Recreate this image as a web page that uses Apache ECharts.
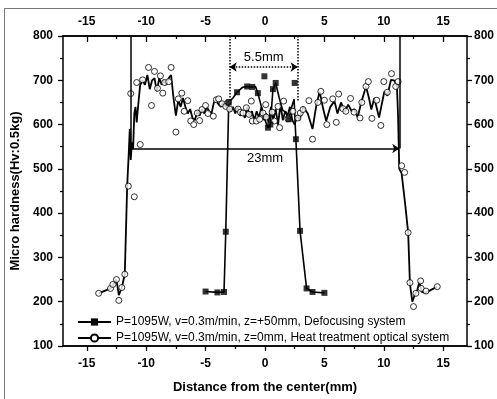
<!DOCTYPE html>
<html>
<head>
<meta charset="utf-8">
<title>Micro hardness</title>
<script src="https://cdn.jsdelivr.net/npm/echarts@6/dist/echarts.min.js"></script>
<style>
  html, body { margin: 0; padding: 0; background: #fff; }
  #frame { position: absolute; left: 4px; top: 8px; width: 493px; height: 391px;
           border-left: 1px solid #777; border-top: 1px solid #777; }
  #main { position: absolute; left: 0; top: 0; width: 497px; height: 399px; }
</style>
</head>
<body>
<div id="frame"></div>
<div id="main"></div>
<script>
// 刻度
var xMajorTicks = [-15, -10, -5, 0, 5, 10, 15];
var xMinorTicks = [-12.5, -7.5, -2.5, 2.5, 7.5, 12.5];

// 图例名称
var nameDefocus = 'P=1095W, v=0.3m/min, z=+50mm, Defocusing system';
var nameHeat = 'P=1095W, v=0.3m/min, z=0mm, Heat treatment optical system';

// 离焦系统 折线 [x, Hv]
var defocusLine = [[-5.0,223],[-4.0,221],[-3.45,222],[-3.3,358],[-3.05,650],[-2.7,660],[-2.35,673],
  [-1.9,684],[-1.5,686],[-1.07,685],[-0.8,686],[-0.6,671],[-0.3,640],[0.0,610],[0.25,593],
  [0.45,600],[0.67,680],[0.9,694],[1.2,660],[1.5,632],[1.75,628],[2.0,612],[2.3,645],
  [2.45,657],[2.6,567],[2.95,360],[3.5,230],[4.0,222],[5.0,220]];
// 离焦系统 实心方块
var defocusPts = [[-5.0,223],[-4.0,221],[-3.45,222],[-3.3,358],[-3.05,650],[-2.35,673],
  [-1.5,686],[-1.07,685],[-0.6,671],[-0.05,709],[0.25,593],[0.45,600],[0.67,680],[0.9,694],
  [2.0,612],[2.5,694],[2.6,567],[2.95,360],[3.5,230],[4.0,222],[5.0,220]];

// 热处理光学系统 折线
var heatLine = [[-14.0,219],[-13.0,230],[-12.8,238],[-12.5,250],[-12.3,215],[-12.05,232],[-11.8,262],
  [-11.6,460],[-11.45,545],[-11.38,590],[-11.3,520],[-11.2,560],[-11.1,545],[-11.0,625],[-10.9,640],
  [-10.8,605],[-10.65,650],[-10.5,690],[-10.3,700],[-10.1,690],[-9.9,712],[-9.7,680],[-9.5,700],
  [-9.3,705],[-9.1,675],[-8.9,705],[-8.7,690],[-8.5,700],[-8.3,690],[-8.1,705],[-7.9,712],
  [-7.7,660],[-7.5,620],[-7.3,655],[-7.1,640],[-6.9,660],[-6.7,640],[-6.5,625],[-6.3,635],
  [-6.1,615],[-5.9,610],[-5.7,630],[-5.5,620],[-5.3,635],[-5.1,625],[-4.9,640],[-4.7,630],
  [-4.5,625],[-4.3,650],[-4.1,655],[-3.9,645],[-3.7,640],[-3.5,650],[-3.3,640],[-3.1,645],
  [-2.9,630],[-2.7,640],[-2.5,625],[-2.3,640],[-2.1,620],[-1.9,630],[-1.7,615],[-1.5,640],
  [-1.3,620],[-1.1,630],[-0.9,610],[-0.7,630],[-0.5,615],[-0.3,640],[-0.1,610],[0.1,625],
  [0.3,605],[0.5,640],[0.7,610],[0.9,635],[1.1,600],[1.3,645],[1.5,610],[1.7,630],[1.9,620],
  [2.1,640],[2.3,610],[2.5,600],[2.7,620],[2.9,610],[3.2,640],[3.6,625],[4.0,590],[4.3,640],
  [4.6,675],[4.9,635],[5.15,608],[5.5,640],[5.85,653],[6.1,625],[6.4,650],[6.7,628],[7.0,645],
  [7.3,630],[7.5,635],[7.8,616],[8.1,650],[8.5,686],[8.75,660],[8.95,634],[9.2,660],[9.6,616],
  [10.05,675],[10.3,665],[10.6,701],[10.85,700],[11.1,690],[11.2,620],[11.3,500],[11.5,490],
  [11.8,420],[12.05,356],[12.2,240],[12.4,200],[12.6,215],[12.8,225],[13.0,245],[13.2,222],
  [13.5,220],[14.5,234]];
// 热处理光学系统 空心圆
var heatPts = [[-14.0,219],[-13.0,230],[-12.8,239],[-12.5,250],[-12.3,203],[-12.05,232],[-11.8,262],
  [-11.5,461],[-11.0,437],[-11.3,670],[-10.5,555],[-10.8,695],[-10.3,701],[-9.8,729],[-9.55,643],
  [-9.3,720],[-9.05,682],[-8.8,710],[-8.6,671],[-8.45,695],[-8.1,697],[-7.9,729],[-7.5,583],
  [-7.3,658],[-7.0,671],[-6.8,630],[-6.5,654],[-6.25,608],[-6.0,600],[-5.7,626],[-5.5,609],
  [-5.3,634],[-5.0,643],[-4.8,625],[-4.35,619],[-4.1,656],[-3.9,658],[-3.6,647],[-3.3,641],
  [-3.1,650],[-2.97,635],[-2.27,635],[-2.07,628],[-1.85,626],[-1.57,638],[-1.35,623],[-1.15,653],
  [-1.07,608],[-0.73,608],[-0.45,612],[-0.17,626],[0.06,645],[0.1,617],[0.6,628],[0.8,608],
  [1.1,641],[1.23,593],[1.57,653],[1.93,613],[2.35,630],[2.77,615],[2.97,626],[3.2,634],
  [3.7,654],[4.0,567],[4.45,650],[4.7,675],[5.0,655],[5.2,600],[5.7,658],[6.0,605],[6.2,669],
  [6.55,636],[6.8,630],[7.2,659],[7.5,628],[8.0,615],[8.15,650],[8.5,686],[8.7,697],[9.0,614],
  [9.4,655],[9.75,598],[10.0,697],[10.3,673],[10.65,715],[11.0,686],[11.2,697],[11.5,507],
  [11.75,492],[12.05,356],[12.2,243],[12.5,189],[12.7,219],[13.1,247],[13.15,230],[13.55,224],
  [14.5,234]];

// 标注: 23mm 和 5.5mm 的范围
var span23 = [-11.3, 11.3];
var span23Top = 800, span23Level = 546;
var span55 = [-2.97, 2.75];
var span55Bottom = 652, span55Level = 730;

var FONT = 'Liberation Sans';
var labelBold = { color: '#000', fontFamily: FONT, fontWeight: 'bold', fontSize: 12 };

function xAxisCfg(pos, ticks, len, inside, showLabel, margin) {
  return {
    type: 'value', position: pos, min: -17, max: 17,
    axisLine: { show: true, onZero: false, lineStyle: { color: '#000', width: 1.5 } },
    axisTick: { show: true, inside: inside, length: len, customValues: ticks,
      lineStyle: { color: '#000', width: 1.3 } },
    axisLabel: Object.assign({ show: showLabel, margin: margin, customValues: ticks }, labelBold),
    splitLine: { show: false }
  };
}

function yAxisCfg(pos, margin) {
  return {
    type: 'value', position: pos, min: 100, max: 800, interval: 100,
    axisLine: { show: true, onZero: false, lineStyle: { color: '#000', width: 1.5 } },
    axisTick: { show: true, inside: false, length: 5, lineStyle: { color: '#000', width: 1.3 } },
    minorTick: { show: true, splitNumber: 2, length: 3, lineStyle: { color: '#000', width: 1.3 } },
    axisLabel: Object.assign({ margin: margin }, labelBold),
    splitLine: { show: false }
  };
}

var chart = echarts.init(document.getElementById('main'), null, { renderer: 'canvas' });

var xBottom = xAxisCfg('bottom', xMajorTicks, 5, false, true, 12);
xBottom.name = 'Distance from the center(mm)';
xBottom.nameLocation = 'middle';
xBottom.nameGap = 35;
xBottom.nameTextStyle = { color: '#000', fontFamily: FONT, fontWeight: 'bold', fontSize: 13 };

var yLeft = yAxisCfg('left', 10);
yLeft.name = 'Micro hardness(Hv:0.5kg)';
yLeft.nameLocation = 'middle';
yLeft.nameGap = 29;
yLeft.nameTextStyle = { color: '#000', fontFamily: FONT, fontWeight: 'bold', fontSize: 13 };

var option = {
  animation: false,
  backgroundColor: 'transparent',
  grid: { left: 63, right: 28, top: 36, bottom: 51 },
  legend: {
    orient: 'vertical', left: 72, top: 311, itemGap: 4,
    itemWidth: 33, itemHeight: 9,
    data: [nameDefocus, nameHeat],
    textStyle: { color: '#000', fontFamily: FONT, fontSize: 12 }
  },
  xAxis: [
    xBottom,
    xAxisCfg('top', xMajorTicks, 6, true, true, 8),
    xAxisCfg('bottom', xMinorTicks, 3, false, false, 0),
    xAxisCfg('top', xMinorTicks, 3, true, false, 0)
  ],
  yAxis: [yLeft, yAxisCfg('right', 7)],
  series: [
    {
      name: nameDefocus, type: 'line', data: defocusLine,
      showSymbol: false, symbol: 'rect', symbolSize: 6,
      itemStyle: { color: '#000' },
      lineStyle: { color: '#000', width: 1.6 },
      silent: true, z: 3,
      markLine: {
        silent: true, symbolSize: 7,
        label: { show: false },
        lineStyle: { color: '#000', width: 1.5, type: 'solid' },
        data: [
          [{ coord: [span23[0], span23Top], symbol: 'none' }, { coord: [span23[0], span23Level], symbol: 'none' }],
          [{ coord: [span23[1], span23Top], symbol: 'none' }, { coord: [span23[1], span23Level], symbol: 'none' }],
          [{ coord: [span23[0], span23Level], symbol: 'none',
             label: { show: true, formatter: '23mm', position: 'insideMiddleBottom', distance: 3,
                      color: '#000', fontFamily: FONT, fontSize: 13 } },
           { coord: [span23[1], span23Level], symbol: 'arrow' }],
          [{ coord: [span55[0], 800], symbol: 'none', lineStyle: { type: 'dotted', width: 1.5 } },
           { coord: [span55[0], span55Bottom], symbol: 'none' }],
          [{ coord: [span55[1], 800], symbol: 'none', lineStyle: { type: 'dotted', width: 1.5 } },
           { coord: [span55[1], span55Bottom], symbol: 'none' }],
          [{ coord: [span55[0], span55Level], symbol: 'arrow', lineStyle: { type: 'dotted', width: 1.5 },
             label: { show: true, formatter: '5.5mm', position: 'insideMiddleTop', distance: 3,
                      color: '#000', fontFamily: FONT, fontSize: 13 } },
           { coord: [span55[1], span55Level], symbol: 'arrow' }]
        ]
      }
    },
    {
      name: nameHeat, type: 'line', data: heatLine,
      showSymbol: false, symbol: 'circle', symbolSize: 7,
      itemStyle: { color: '#fff', borderColor: '#000', borderWidth: 1 },
      lineStyle: { color: '#000', width: 1.8 },
      silent: true, z: 2
    },
    {
      name: 'defocusMarks', type: 'scatter', data: defocusPts,
      symbol: 'rect', symbolSize: 6,
      itemStyle: { color: '#000' }, silent: true, z: 5
    },
    {
      name: 'heatMarks', type: 'scatter', data: heatPts,
      symbol: 'circle', symbolSize: 6,
      itemStyle: { color: '#fff', borderColor: '#000', borderWidth: 1 }, silent: true, z: 4
    }
  ]
};

chart.setOption(option);
</script>
</body>
</html>
